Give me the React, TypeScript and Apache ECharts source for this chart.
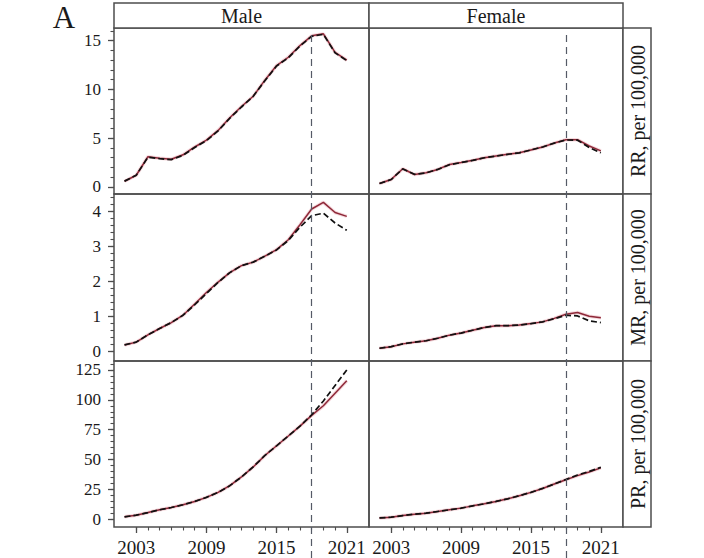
import React, { useEffect, useRef } from "react";
import * as echarts from "echarts";

// ---------- data (2002..2021) ----------
const years = [2002, 2003, 2004, 2005, 2006, 2007, 2008, 2009, 2010, 2011, 2012, 2013, 2014, 2015, 2016, 2017, 2018, 2019, 2020, 2021];

const maleRR = [0.59, 1.2, 3.1, 2.95, 2.85, 3.3, 4.1, 4.8, 5.8, 7.1, 8.25, 9.3, 10.95, 12.45, 13.3, 14.5, 15.5, 15.7, 13.8, 13.0];
const maleRRPred = [0.6, 1.2, 3.05, 2.9, 2.8, 3.25, 4.05, 4.75, 5.75, 7.05, 8.2, 9.3, 10.9, 12.4, 13.25, 14.45, 15.45, 15.65, 13.75, 12.95];
const femaleRR = [0.35, 0.76, 1.87, 1.28, 1.45, 1.8, 2.3, 2.5, 2.73, 3.0, 3.18, 3.35, 3.5, 3.8, 4.1, 4.5, 4.85, 4.85, 4.2, 3.7];
const femaleRRPred = [0.35, 0.76, 1.85, 1.3, 1.45, 1.8, 2.28, 2.5, 2.72, 3.0, 3.17, 3.35, 3.5, 3.8, 4.1, 4.5, 4.82, 4.8, 4.05, 3.5];

const maleMR = [0.18, 0.26, 0.47, 0.65, 0.82, 1.03, 1.35, 1.68, 1.98, 2.25, 2.45, 2.55, 2.72, 2.91, 3.19, 3.62, 4.07, 4.26, 3.97, 3.86];
const maleMRPred = [0.18, 0.26, 0.47, 0.65, 0.82, 1.03, 1.33, 1.65, 1.97, 2.25, 2.45, 2.55, 2.72, 2.9, 3.17, 3.55, 3.88, 3.95, 3.67, 3.46];
const femaleMR = [0.085, 0.13, 0.21, 0.26, 0.3, 0.37, 0.46, 0.52, 0.6, 0.68, 0.73, 0.73, 0.75, 0.79, 0.84, 0.94, 1.06, 1.11, 1.0, 0.96];
const femaleMRPred = [0.085, 0.13, 0.21, 0.26, 0.3, 0.37, 0.46, 0.52, 0.6, 0.68, 0.73, 0.73, 0.75, 0.79, 0.84, 0.93, 1.03, 1.01, 0.87, 0.82];

const malePR = [2.0, 3.4, 5.6, 7.9, 9.8, 12.1, 14.9, 18.3, 22.5, 28.1, 35.4, 43.8, 53.4, 61.5, 69.7, 78, 87, 95, 105.5, 116];
const malePRPred = [2.0, 3.4, 5.6, 7.9, 9.8, 12.1, 14.9, 18.3, 22.5, 28.1, 35.4, 43.8, 53.4, 61.5, 69.7, 78, 87.5, 99, 112, 125];
const femalePR = [1.1, 1.7, 3.1, 4.2, 5.1, 6.5, 7.9, 9.3, 11.2, 12.9, 14.9, 17.1, 19.7, 22.5, 25.8, 29.5, 33.1, 36.5, 39.6, 43.0];
const femalePRPred = [1.1, 1.7, 3.1, 4.2, 5.1, 6.5, 7.9, 9.3, 11.2, 12.9, 14.9, 17.1, 19.7, 22.5, 25.8, 29.5, 33.3, 37.0, 40.0, 43.5];

const covidYear = 2018;

const sexLabels = ["Male", "Female"];
const rowLabels = ["RR, per 100,000", "MR, per 100,000", "PR, per 100,000"];

const xTicks = [2003, 2009, 2015, 2021];
const xMinorTicks = [2003, 2004, 2005, 2006, 2007, 2008, 2009, 2010, 2011, 2012, 2013, 2014, 2015, 2016, 2017, 2018, 2019, 2020, 2021];
const rrTicks = [0, 5, 10, 15];
const mrTicks = [0, 1, 2, 3, 4];
const prTicks = [0, 25, 50, 75, 100, 125];
const rrMinor = [0, 1, 2, 3, 4, 5, 6, 7, 8, 9, 10, 11, 12, 13, 14, 15, 16];
const mrMinor = [0, 0.2, 0.4, 0.6, 0.8, 1, 1.2, 1.4, 1.6, 1.8, 2, 2.2, 2.4, 2.6, 2.8, 3, 3.2, 3.4, 3.6, 3.8, 4, 4.2, 4.4];
const prMinor = [0, 5, 10, 15, 20, 25, 30, 35, 40, 45, 50, 55, 60, 65, 70, 75, 80, 85, 90, 95, 100, 105, 110, 115, 120, 125, 130];

// ---------- layout / style ----------
const FONT = "'Liberation Serif', 'DejaVu Serif', serif";
const BORDER = "#4d4d4d";
const TEXT = "#1a1a1a";
const colLeft = [114, 369];
const colW = [255, 254];
const rowTop = [28, 194, 361];
const rowH = [166, 167, 166];
const xMin = 2001.1;
const xMax = 2022.9;
const rowSpec = [
  { min: -0.72, max: 16.3, major: rrTicks, minor: rrMinor },
  { min: -0.28, max: 4.5, major: mrTicks, minor: mrMinor },
  { min: -6.5, max: 132.5, major: prTicks, minor: prMinor },
];

const panels = [
  { row: 0, col: 0, obs: maleRR, pred: maleRRPred },
  { row: 0, col: 1, obs: femaleRR, pred: femaleRRPred },
  { row: 1, col: 0, obs: maleMR, pred: maleMRPred },
  { row: 1, col: 1, obs: femaleMR, pred: femaleMRPred },
  { row: 2, col: 0, obs: malePR, pred: malePRPred },
  { row: 2, col: 1, obs: femalePR, pred: femalePRPred },
];

function buildOption() {
  const grid: any[] = [];
  const xAxis: any[] = [];
  const yAxis: any[] = [];
  const series: any[] = [];

  panels.forEach((p) => {
    const gi = grid.length;
    grid.push({
      left: colLeft[p.col],
      top: rowTop[p.row],
      width: colW[p.col],
      height: rowH[p.row],
      show: true,
      borderColor: BORDER,
      borderWidth: 1.5,
      backgroundColor: "transparent",
      containLabel: false,
    });
    const bottom = p.row === 2;
    const left = p.col === 0;
    const spec = rowSpec[p.row];

    const xi = xAxis.length;
    xAxis.push({
      type: "value",
      gridIndex: gi,
      min: xMin,
      max: xMax,
      position: "bottom",
      axisLine: { show: false, onZero: false },
      splitLine: { show: false },
      axisTick: { show: bottom, customValues: xTicks, length: 6, lineStyle: { color: BORDER, width: 1.3 } },
      axisLabel: {
        show: bottom,
        customValues: xTicks,
        formatter: (v: number) => String(v),
        margin: 11,
        fontSize: 19,
        fontFamily: FONT,
        color: TEXT,
      },
    });
    if (bottom) {
      xAxis.push({
        type: "value",
        gridIndex: gi,
        min: xMin,
        max: xMax,
        position: "bottom",
        axisLine: { show: false, onZero: false },
        splitLine: { show: false },
        axisTick: { show: true, customValues: xMinorTicks, length: 3.5, lineStyle: { color: BORDER, width: 1.1 } },
        axisLabel: { show: false },
      });
    }

    const yi = yAxis.length;
    yAxis.push({
      type: "value",
      gridIndex: gi,
      min: spec.min,
      max: spec.max,
      position: "left",
      axisLine: { show: false, onZero: false },
      splitLine: { show: false },
      axisTick: { show: left, customValues: spec.major, length: 6, lineStyle: { color: BORDER, width: 1.3 } },
      axisLabel: {
        show: left,
        customValues: spec.major,
        formatter: (v: number) => String(v),
        margin: 13,
        fontSize: 17,
        fontFamily: FONT,
        color: TEXT,
      },
    });
    if (left) {
      yAxis.push({
        type: "value",
        gridIndex: gi,
        min: spec.min,
        max: spec.max,
        position: "left",
        axisLine: { show: false, onZero: false },
        splitLine: { show: false },
        axisTick: { show: true, customValues: spec.minor, length: 3.5, lineStyle: { color: BORDER, width: 1.1 } },
        axisLabel: { show: false },
      });
    }

    const obsData = years.map((y, k) => [y, p.obs[k]]);
    const predData = years.map((y, k) => [y, p.pred[k]]);
    series.push({
      type: "line",
      xAxisIndex: xi,
      yAxisIndex: yi,
      data: obsData,
      symbol: "none",
      silent: true,
      lineStyle: { color: "rgba(225,150,160,0.35)", width: 3.5 },
      z: 2,
    });
    series.push({
      type: "line",
      xAxisIndex: xi,
      yAxisIndex: yi,
      data: obsData,
      symbol: "none",
      silent: true,
      lineStyle: { color: "#8e2838", width: 1.5 },
      z: 3,
    });
    series.push({
      type: "line",
      xAxisIndex: xi,
      yAxisIndex: yi,
      data: predData,
      symbol: "none",
      silent: true,
      lineStyle: { color: "#111111", width: 1.7, type: [6, 3] },
      z: 4,
    });
  });

  // vertical reference line at the cut-off year, spanning all rows of each column
  [0, 1].forEach((c) => {
    const gi = grid.length;
    grid.push({ left: colLeft[c], top: 33, width: colW[c], height: 525, show: false });
    const xi = xAxis.length;
    xAxis.push({ type: "value", gridIndex: gi, min: xMin, max: xMax, show: false });
    const yi = yAxis.length;
    yAxis.push({ type: "value", gridIndex: gi, min: 0, max: 1, show: false });
    series.push({
      type: "line",
      xAxisIndex: xi,
      yAxisIndex: yi,
      data: [[covidYear, 0.5]],
      symbol: "none",
      silent: true,
      lineStyle: { width: 0 },
      z: 5,
      markLine: {
        silent: true,
        symbol: ["none", "none"],
        label: { show: false },
        lineStyle: { color: "#555a66", width: 1.2, type: [7, 5] },
        data: [{ xAxis: covidYear }],
      },
    });
  });

  const graphic: any[] = [];
  // top strips
  [0, 1].forEach((c) => {
    graphic.push({
      type: "rect",
      shape: { x: colLeft[c], y: 3, width: colW[c], height: 25 },
      style: { fill: "#ffffff", stroke: BORDER, lineWidth: 1.5 },
      z: 10,
    });
    graphic.push({
      type: "text",
      x: colLeft[c] + colW[c] / 2,
      y: 16,
      style: { text: sexLabels[c], fontSize: 20, fontFamily: FONT, fill: TEXT, textAlign: "center", textVerticalAlign: "middle" },
      z: 11,
    });
  });
  // right strips
  [0, 1, 2].forEach((r) => {
    graphic.push({
      type: "rect",
      shape: { x: 623, y: rowTop[r], width: 28, height: rowH[r] },
      style: { fill: "#ffffff", stroke: BORDER, lineWidth: 1.5 },
      z: 10,
    });
    graphic.push({
      type: "text",
      x: 638,
      y: rowTop[r] + rowH[r] / 2,
      rotation: Math.PI / 2,
      style: { text: rowLabels[r], fontSize: 20, fontFamily: FONT, fill: TEXT, textAlign: "center", textVerticalAlign: "middle" },
      z: 11,
    });
  });
  graphic.push({
    type: "text",
    x: 64,
    y: 17,
    style: { text: "A", fontSize: 31, fontFamily: FONT, fill: TEXT, textAlign: "center", textVerticalAlign: "middle" },
    z: 11,
  });

  return {
    animation: false,
    backgroundColor: "#ffffff",
    grid,
    xAxis,
    yAxis,
    series,
    graphic,
  };
}

export default function App() {
  const ref = useRef<HTMLDivElement>(null);
  useEffect(() => {
    if (!ref.current) return;
    const chart = echarts.init(ref.current, undefined, { renderer: "svg" });
    chart.setOption(buildOption() as any);
    return () => chart.dispose();
  }, []);
  return (
    <div
      ref={ref}
      style={{ position: "absolute", left: 0, top: 0, width: 704, height: 558, background: "#fff" }}
    />
  );
}
